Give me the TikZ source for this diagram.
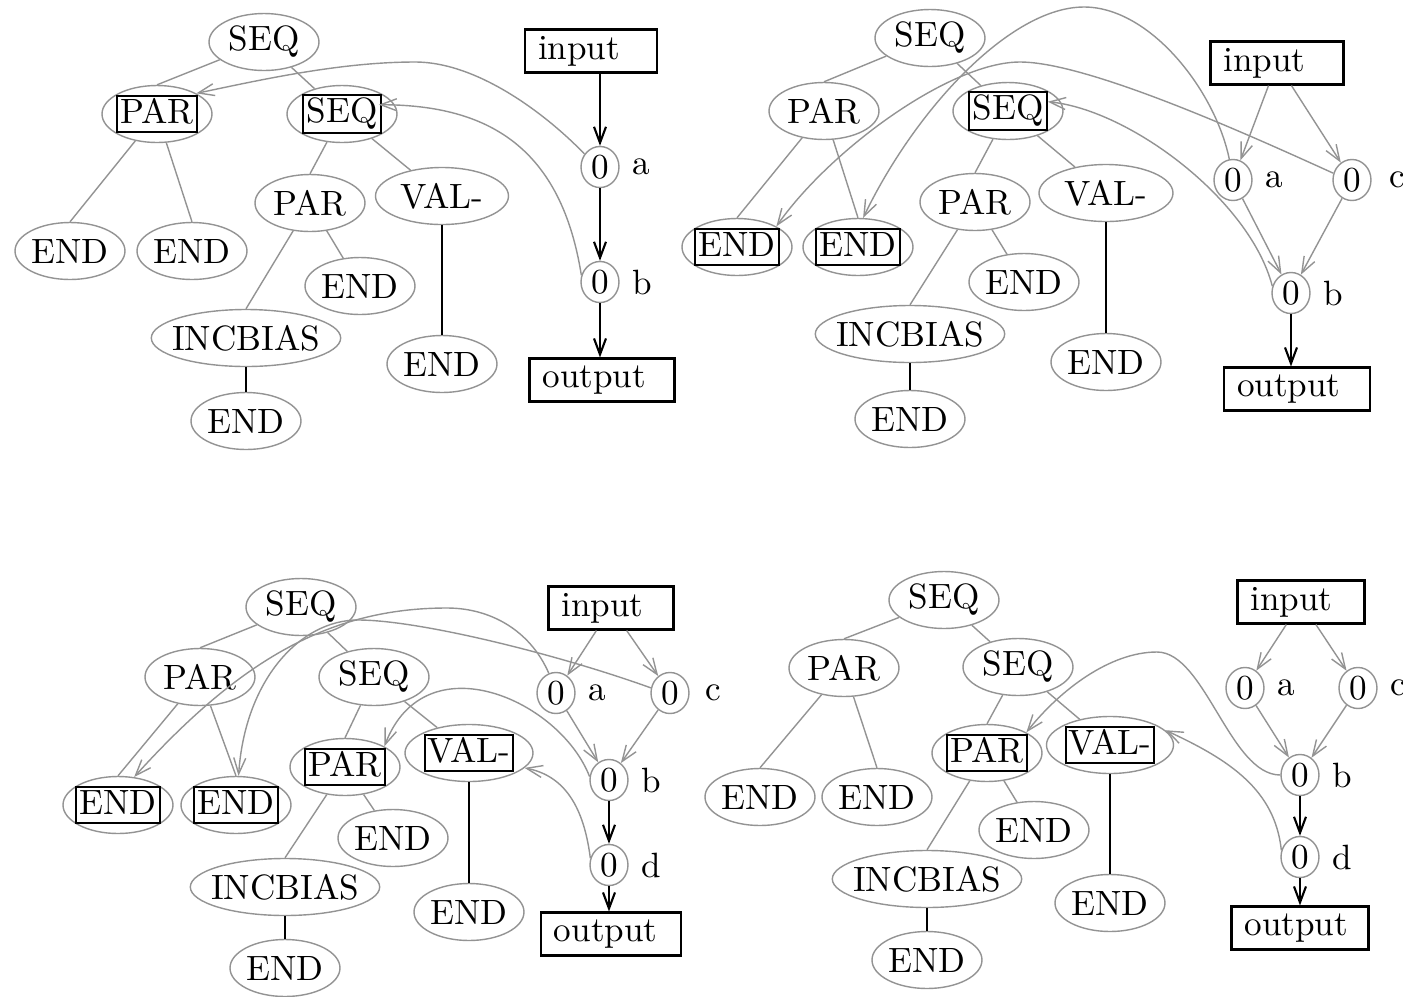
\documentclass[tikz,border=0pt]{standalone}
\usetikzlibrary{arrows.meta, shapes.geometric, positioning}

\newcommand{\boxop}[1]{{\setlength{\fboxsep}{0.6pt}\setlength{\fboxrule}{0.6pt}\fbox{\rule[-1.5pt]{0pt}{8pt}#1}}}

\begin{document}
\begin{tikzpicture}[x=0.1mm, y=-0.1mm,
  >={Straight Barb[length=1.6mm, width=1.2mm]},
  op/.style={ellipse, draw=gray!85, line width=0.4pt, inner xsep=-0.7mm, inner ysep=0pt, minimum width=11mm, minimum height=5.7mm},
  zero/.style={ellipse, draw=gray!85, line width=0.4pt, inner sep=0pt, minimum width=3.8mm, minimum height=4.1mm},
  io/.style={draw, line width=0.6pt, inner xsep=1.3mm, inner ysep=0pt, minimum height=4.3mm, text width=#1, align=left},
  branch/.style={gray!85, line width=0.4pt},
  stem/.style={line width=0.6pt},
  mainarrow/.style={->, line width=0.6pt},
  sidearrow/.style={->, gray!85, line width=0.4pt}]

\useasboundingbox (0,0) rectangle (1403,997);

% Panel 1 (top left)
\node[op] (p1root) at (264,42) {SEQ};
\node[op] (p1par) at (157,114) {\boxop{PAR}};
\node[op] (p1seq) at (342,114) {\boxop{SEQ}};
\node[op] (p1e1) at (70,251) {END};
\node[op] (p1e2) at (192,251) {END};
\node[op] (p1par2) at (310,203) {PAR};
\node[op, minimum width=13.3mm] (p1val) at (442,196) {VAL-};
\node[op] (p1e3) at (360,286) {END};
\node[op] (p1inc) at (246,338) {INCBIAS};
\node[op] (p1e4) at (246,421) {END};
\node[op] (p1e5) at (442,364) {END};
\node[io=10.6mm] (p1in) at (591,51) {input};
\node[zero] (p1a) at (600,167) {0};
\node[zero] (p1b) at (600,282) {0};
\node[io=11.9mm] (p1out) at (602,380) {output};
\node[right=0pt of p1a] (p1la) {a};
\node[right=0pt of p1b] (p1lb) {b};

% Panel 2 (top right)
\node[op] (p2root) at (930,38) {SEQ};
\node[op] (p2par) at (824,111) {PAR};
\node[op] (p2seq) at (1008,111) {\boxop{SEQ}};
\node[op] (p2e1) at (737,247) {\boxop{END}};
\node[op] (p2e2) at (858,247) {\boxop{END}};
\node[op] (p2par2) at (975,202) {PAR};
\node[op, minimum width=13.4mm] (p2val) at (1106,193) {VAL-};
\node[op] (p2e3) at (1024,282) {END};
\node[op] (p2inc) at (910,334) {INCBIAS};
\node[op] (p2e4) at (910,419) {END};
\node[op] (p2e5) at (1106,362) {END};
\node[io=10.7mm] (p2in) at (1277,63) {input};
\node[zero] (p2a) at (1233,180) {0};
\node[zero] (p2c) at (1352,180) {0};
\node[zero] (p2b) at (1291,293) {0};
\node[io=12mm] (p2out) at (1297,389) {output};
\node[right=0pt of p2a] (p2la) {a};
\node[right=0.5mm of p2c] (p2lc) {c};
\node[right=0pt of p2b] (p2lb) {b};

% Panel 3 (bottom left)
\node[op] (p3root) at (301,607) {SEQ};
\node[op] (p3par) at (200,677) {PAR};
\node[op] (p3seq) at (374,677) {SEQ};
\node[op] (p3e1) at (118,805) {\boxop{END}};
\node[op] (p3e2) at (236,805) {\boxop{END}};
\node[op] (p3par2) at (345,767) {\boxop{PAR}};
\node[op, minimum width=12.8mm] (p3val) at (469,753) {\boxop{VAL-}};
\node[op] (p3e3) at (393,838) {END};
\node[op] (p3inc) at (285,887) {INCBIAS};
\node[op] (p3e4) at (285,968) {END};
\node[op] (p3e5) at (469,912) {END};
\node[io=9.9mm] (p3in) at (611,608) {input};
\node[zero] (p3a) at (556,693) {0};
\node[zero] (p3c) at (670,693) {0};
\node[zero] (p3b) at (609,780) {0};
\node[zero] (p3d) at (609,865) {0};
\node[io=11.4mm] (p3out) at (611,934) {output};
\node[right=0pt of p3a] (p3la) {a};
\node[right=0.3mm of p3c] (p3lc) {c};
\node[right=0pt of p3b] (p3lb) {b};
\node[right=0pt of p3d] (p3ld) {d};

% Panel 4 (bottom right)
\node[op] (p4root) at (944,600) {SEQ};
\node[op] (p4par) at (844,668) {PAR};
\node[op] (p4seq) at (1018,667) {SEQ};
\node[op] (p4e1) at (760,797) {END};
\node[op] (p4e2) at (877,797) {END};
\node[op] (p4par2) at (987,753) {\boxop{PAR}};
\node[op, minimum width=12.7mm] (p4val) at (1110,745) {\boxop{VAL-}};
\node[op] (p4e3) at (1034,830) {END};
\node[op] (p4inc) at (927,879) {INCBIAS};
\node[op] (p4e4) at (927,960) {END};
\node[op] (p4e5) at (1110,903) {END};
\node[io=10.1mm] (p4in) at (1301,602) {input};
\node[zero] (p4a) at (1245,688) {0};
\node[zero] (p4c) at (1358,688) {0};
\node[zero] (p4b) at (1300,775) {0};
\node[zero] (p4d) at (1300,857) {0};
\node[io=11.1mm] (p4out) at (1300,928) {output};
\node[right=0pt of p4a] (p4la) {a};
\node[right=0pt of p4c] (p4lc) {c};
\node[right=0pt of p4b] (p4lb) {b};
\node[right=0pt of p4d] (p4ld) {d};

% Trees (same shape in every panel)
\foreach \p in {1,2,3,4} {
  \draw[branch] (p\p root) -- (p\p par.north) (p\p root) -- (p\p seq)
    (p\p par) -- (p\p e1.north) (p\p par) -- (p\p e2.north)
    (p\p seq) -- (p\p par2.north) (p\p seq) -- (p\p val)
    (p\p par2) -- (p\p inc.north) (p\p par2) -- (p\p e3);
  \draw[stem] (p\p inc) -- (p\p e4) (p\p val) -- (p\p e5);
}

% Data flow, panel 1
\draw[mainarrow] (p1in.south -| p1a) -- (p1a);
\draw[mainarrow] (p1a) -- (p1b);
\draw[mainarrow] (p1b) -- (p1b |- p1out.north);
\draw[sidearrow] (p1a.140) .. controls (550,118) and (480,62) .. (415,62) .. controls (340,62) and (260,80) .. (p1par.north east);
\draw[sidearrow] (p1b.160) .. controls (560,140) and (480,105) .. ([xshift=-1.6mm]p1seq.10);

% Data flow, panel 2
\draw[sidearrow] (p2in) -- (p2a);
\draw[sidearrow] (p2in) -- (p2c);
\draw[sidearrow] (p2a) -- (p2b);
\draw[sidearrow] (p2c) -- (p2b);
\draw[mainarrow] (p2b) -- (p2b |- p2out.north);
\draw[sidearrow] (p2a.100) .. controls (1215,90) and (1150,7) .. (1084,7) .. controls (1010,7) and (915,110) .. (p2e2.80);
\draw[sidearrow] (p2c.160) .. controls (1260,140) and (1090,62) .. (1020,62) .. controls (950,62) and (830,150) .. (p2e1.north east);
\draw[sidearrow] (p2b.160) .. controls (1250,200) and (1130,110) .. ([xshift=-1.3mm]p2seq.10);

% Data flow, panel 3
\draw[sidearrow] (p3in) -- (p3a);
\draw[sidearrow] (p3in) -- (p3c);
\draw[sidearrow] (p3a) -- (p3b);
\draw[sidearrow] (p3c) -- (p3b);
\draw[mainarrow] (p3b) -- (p3d);
\draw[mainarrow] (p3d) -- (p3d |- p3out.north);
\draw[sidearrow] (p3a.110) .. controls (530,630) and (490,608) .. (447,608) .. controls (330,608) and (240,660) .. (p3e1.60);
\draw[sidearrow] (p3c.165) .. controls (560,655) and (420,620) .. (358,620) .. controls (300,620) and (245,680) .. (p3e2.85);
\draw[sidearrow] (p3b.170) .. controls (560,700) and (425,640) .. (p3par2.north east);
\draw[sidearrow] (p3d.160) .. controls (583,800) and (560,775) .. (p3val.-15);

% Data flow, panel 4
\draw[sidearrow] (p4in) -- (p4a);
\draw[sidearrow] (p4in) -- (p4c);
\draw[sidearrow] (p4a) -- (p4b);
\draw[sidearrow] (p4c) -- (p4b);
\draw[mainarrow] (p4b) -- (p4d);
\draw[mainarrow] (p4d) -- (p4d |- p4out.north);
\draw[sidearrow] (p4b.west) .. controls (1230,775) and (1205,652) .. (1157,652) .. controls (1110,652) and (1060,690) .. (p4par2.north east);
\draw[sidearrow] (p4d.160) .. controls (1275,790) and (1230,760) .. (p4val.15);

\end{tikzpicture}
\end{document}
